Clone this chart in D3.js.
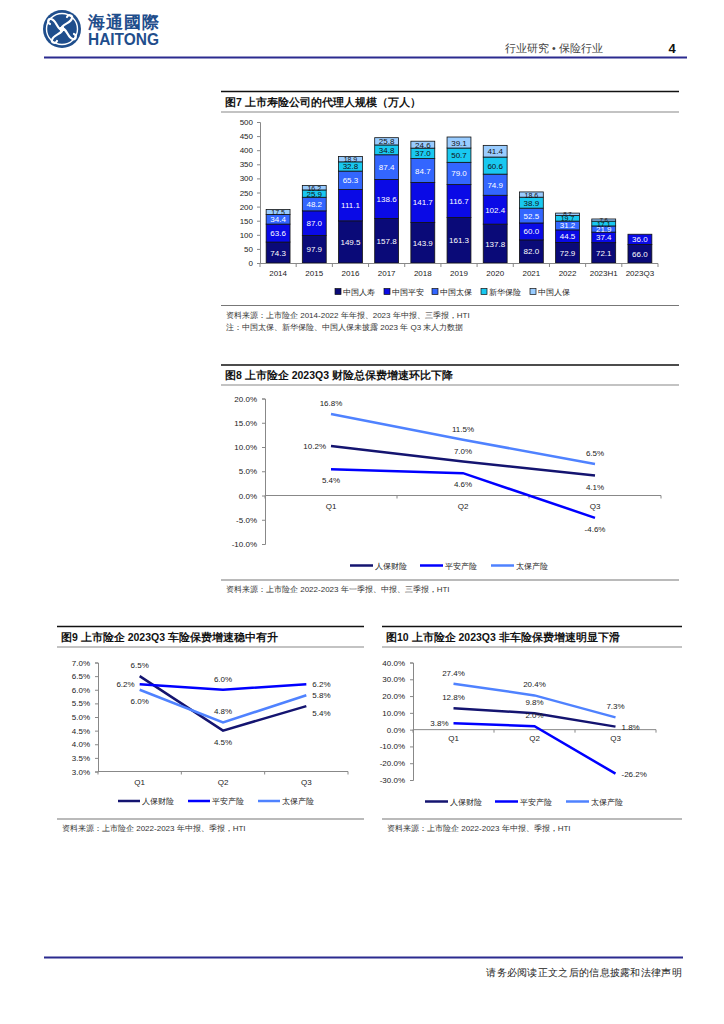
<!DOCTYPE html>
<html><head><meta charset="utf-8">
<script src="https://cdn.jsdelivr.net/npm/d3@7"></script>
<style>
body{margin:0;background:#fff;}
svg{display:block;}
text{font-family:"Liberation Sans",Arial,sans-serif;}
</style></head>
<body>
<svg id="page" width="724" height="1024"></svg>
<script>
// ---------- DATA ----------
const years = ["2014","2015","2016","2017","2018","2019","2020","2021","2022","2023H1","2023Q3"];
const companies = ["中国人寿","中国平安","中国太保","新华保险","中国人保"];
const chinaLife = [74.3,97.9,149.5,157.8,143.9,161.3,137.8,82.0,72.9,72.1,66.0];
const pingAn   = [63.6,87.0,111.1,138.6,141.7,116.7,102.4,60.0,44.5,37.4,36.0];
const cpic     = [34.4,48.2,65.3,87.4,84.7,79.0,74.9,52.5,31.2,21.9,null];
const nci      = [null,25.9,32.8,34.8,37.0,50.7,60.6,38.9,19.7,17.1,null];
const picc     = [17.5,16.2,18.9,25.8,24.6,39.1,41.4,18.6,8.7,7.6,null];
const agentTicks = [0,50,100,150,200,250,300,350,400,450,500];

const quarters = ["Q1","Q2","Q3"];
const lineSeries = ["人保财险","平安产险","太保产险"];
// 图8 财险总保费增速 (%)
const total_picc = [10.2,7.0,4.1];
const total_pa   = [5.4,4.6,-4.6];
const total_cpic = [16.8,11.5,6.5];
const totalTicks = [-10,-5,0,5,10,15,20];
// 图9 车险保费增速 (%)
const auto_picc = [6.5,4.5,5.4];
const auto_pa   = [6.2,6.0,6.2];
const auto_cpic = [6.0,4.8,5.8];
const autoTicks = [3.0,3.5,4.0,4.5,5.0,5.5,6.0,6.5,7.0];
// 图10 非车险保费增速 (%)
const nonauto_picc = [12.8,9.8,1.8];
const nonauto_pa   = [3.8,2.0,-26.2];
const nonauto_cpic = [27.4,20.4,7.3];
const nonautoTicks = [-30,-20,-10,0,10,20,30,40];

// ---------- STYLE ----------
const barColors = ["#0a0a78","#0a0ae6","#3366ff","#19c8f0","#99ccff"];
const barLabelColors = ["#fff","#fff","#fff","#111","#111"];
const lineColors = ["#141470","#0000ff","#4f82ff"];
const ink = "#222";
const CJK = '"Noto Sans CJK SC","Noto Sans",sans-serif';
const pct = v => (v < 0 ? "-" : "") + Math.abs(v).toFixed(1) + "%";

const svg = d3.select("#page");

// ---------- HEADER ----------
const brand = "#1f4e8c";
const logo = svg.append("g").attr("transform","translate(62,29)");
logo.append("circle").attr("r",19).attr("fill",brand);
logo.append("circle").attr("r",15.5).attr("fill","none").attr("stroke","#fff").attr("stroke-width",1.4);
[0,90,180,270].forEach(a=>{
  logo.append("path").attr("transform",`rotate(${a})`)
    .attr("d","M0,-2 C3,-6 9,-6 10,-11 C11,-14 6,-15 5,-12")
    .attr("fill","none").attr("stroke","#fff").attr("stroke-width",2.2).attr("stroke-linecap","round");
});
logo.append("rect").attr("x",-2).attr("y",-2).attr("width",4).attr("height",4).attr("fill","#fff");
svg.append("text").attr("x",88).attr("y",28).attr("font-size",17).attr("font-weight","bold")
  .attr("fill",brand).attr("textLength",71).attr("font-family",CJK).text("海通國際");
svg.append("text").attr("x",88).attr("y",45).attr("font-size",16).attr("font-weight","bold")
  .attr("fill",brand).attr("textLength",71).attr("lengthAdjust","spacingAndGlyphs").text("HAITONG");
svg.append("text").attr("x",505).attr("y",52).attr("font-size",10.5).attr("fill","#444")
  .attr("font-family",CJK).text("行业研究 • 保险行业");
svg.append("text").attr("x",672).attr("y",53).attr("font-size",13).attr("font-weight","bold")
  .attr("fill","#111").attr("text-anchor","middle").text("4");
svg.append("line").attr("x1",44).attr("x2",687).attr("y1",57.5).attr("y2",57.5)
  .attr("stroke","#2b2b8f").attr("stroke-width",2);

// footer
svg.append("line").attr("x1",44).attr("x2",683).attr("y1",957.5).attr("y2",957.5)
  .attr("stroke","#2b2b8f").attr("stroke-width",2);
svg.append("text").attr("x",682).attr("y",976).attr("font-size",10).attr("fill","#222")
  .attr("text-anchor","end").attr("font-family",CJK).attr("letter-spacing",0.3)
  .text("请务必阅读正文之后的信息披露和法律声明");

// ---------- PANEL FRAME ----------
function panel(x1,x2,yTop,yTitleLine,yBottom,title,sources){
  svg.append("line").attr("x1",x1).attr("x2",x2).attr("y1",yTop).attr("y2",yTop)
    .attr("stroke","#111").attr("stroke-width",1.6);
  svg.append("text").attr("x",x1+4).attr("y",(yTop+yTitleLine)/2+4).attr("font-size",10.5)
    .attr("font-weight","bold").attr("fill","#111").attr("font-family",CJK).text(title);
  svg.append("line").attr("x1",x1).attr("x2",x2).attr("y1",yTitleLine).attr("y2",yTitleLine)
    .attr("stroke","#888").attr("stroke-width",1.2);
  svg.append("line").attr("x1",x1).attr("x2",x2).attr("y1",yBottom).attr("y2",yBottom)
    .attr("stroke","#777").attr("stroke-width",1.2);
  sources.forEach((s,i)=>{
    svg.append("text").attr("x",x1+5).attr("y",yBottom+12+i*12.5).attr("font-size",8)
      .attr("fill","#333").attr("font-family",CJK).text(s);
  });
}

// ---------- FIGURE 7: stacked bars ----------
panel(221,679,91.5,112,305.5,"图7  上市寿险公司的代理人规模（万人）",
  ["资料来源：上市险企 2014-2022 年年报、2023 年中报、三季报，HTI",
   "注：中国太保、新华保险、中国人保未披露 2023 年 Q3 末人力数据"]);
{
  const series = [chinaLife,pingAn,cpic,nci,picc];
  const rows = years.map((y,i)=>{
    const r = {year:y};
    companies.forEach((c,k)=> r[c] = series[k][i] == null ? 0 : series[k][i]);
    return r;
  });
  const stack = d3.stack().keys(companies)(rows);
  const x = d3.scaleBand().domain(years).range([260,658]).paddingInner(0.34).paddingOuter(0.17);
  const y = d3.scaleLinear().domain([0,500]).range([263,122]);
  const g = svg.append("g");
  const ya = g.append("g").attr("transform","translate(260,0)")
    .call(d3.axisLeft(y).tickValues(agentTicks).tickSize(3).tickPadding(4));
  ya.select(".domain").attr("stroke","#888");
  ya.selectAll(".tick line").attr("stroke","#888");
  ya.selectAll("text").attr("font-size",8).attr("fill",ink);
  stack.forEach((layer,k)=>{
    g.append("g").selectAll("rect").data(layer.filter(d=>d[1]-d[0]>0)).join("rect")
      .attr("x",d=>x(d.data.year)).attr("width",x.bandwidth())
      .attr("y",d=>y(d[1])).attr("height",d=>y(d[0])-y(d[1]))
      .attr("fill",barColors[k]).attr("stroke","#111").attr("stroke-width",0.8);
  });
  stack.forEach((layer,k)=>{
    g.append("g").selectAll("text").data(layer.filter(d=>d[1]-d[0]>0)).join("text")
      .attr("x",d=>x(d.data.year)+x.bandwidth()/2)
      .attr("y",d=>(y(d[0])+y(d[1]))/2 + ((d[1]-d[0]) < 12 ? 2 : 3))
      .attr("text-anchor","middle")
      .attr("font-size",d=>(d[1]-d[0]) < 12 ? 6 : ((d[1]-d[0]) < 20 ? 7 : 8))
      .attr("fill",barLabelColors[k])
      .text(d=>(d[1]-d[0]).toFixed(1));
  });
  g.append("line").attr("x1",260).attr("x2",658).attr("y1",263.5).attr("y2",263.5).attr("stroke","#888");
  const bounds = years.map(v=>x(v)-x.step()*x.paddingInner()/2).concat([658]);
  g.selectAll(".xt").data(bounds).join("line").attr("x1",d=>d).attr("x2",d=>d)
    .attr("y1",263.5).attr("y2",267).attr("stroke","#888");
  g.selectAll(".xl").data(years).join("text").attr("x",d=>x(d)+x.bandwidth()/2).attr("y",276)
    .attr("text-anchor","middle").attr("font-size",8).attr("fill",ink).text(d=>d);
  const lx = [335,384,432,481,530];
  companies.forEach((c,k)=>{
    g.append("rect").attr("x",lx[k]).attr("y",288.5).attr("width",6).attr("height",6)
      .attr("fill",barColors[k]).attr("stroke","#111").attr("stroke-width",0.7);
    g.append("text").attr("x",lx[k]+7.5).attr("y",294.5).attr("font-size",7.5).attr("fill",ink)
      .attr("font-family",CJK).text(c);
  });
}

// ---------- LINE CHART helper ----------
function lineChart(opt){
  const g = svg.append("g");
  const x = d3.scaleBand().domain(quarters).range([opt.x0,opt.x1]);
  const y = d3.scaleLinear().domain(opt.domain).range([opt.yb,opt.yt]);
  const ya = g.append("g").attr("transform",`translate(${opt.x0},0)`)
    .call(d3.axisLeft(y).tickValues(opt.ticks).tickSize(3).tickPadding(5).tickFormat(pct));
  ya.select(".domain").attr("stroke","#888");
  ya.selectAll(".tick line").attr("stroke","#888");
  ya.selectAll("text").attr("font-size",8).attr("fill",ink);
  const y0 = opt.axisAt == null ? opt.yb : y(opt.axisAt);
  g.append("line").attr("x1",opt.x0).attr("x2",opt.x1).attr("y1",y0).attr("y2",y0).attr("stroke","#888");
  const bounds = [opt.x0].concat(quarters.map(q=>x(q)+x.step()));
  g.selectAll(".xt").data(bounds).join("line").attr("x1",d=>d).attr("x2",d=>d)
    .attr("y1",y0).attr("y2",y0+3).attr("stroke","#888");
  g.selectAll(".xl").data(quarters).join("text").attr("x",d=>x(d)+x.bandwidth()/2).attr("y",y0+opt.catDy)
    .attr("text-anchor","middle").attr("font-size",8).attr("fill",ink).text(d=>d);
  const line = d3.line().x((d,i)=>x(quarters[i])+x.bandwidth()/2).y(d=>y(d));
  opt.series.forEach((s,k)=>{
    g.append("path").datum(s).attr("d",line).attr("fill","none")
      .attr("stroke",lineColors[k]).attr("stroke-width",2.5);
  });
  opt.series.forEach((s,k)=>{
    s.forEach((v,i)=>{
      const px = x(quarters[i])+x.bandwidth()/2, py = y(v);
      const p = opt.place[k][i];
      let tx=px, ty=py+3, anchor="middle";
      if(p==="a") ty = py-8;
      if(p==="b") ty = py+14;
      if(p==="l"){ tx = px-5; anchor="end"; }
      if(p==="r"){ tx = px+6; anchor="start"; }
      if(p==="rb"){ tx = px+6; anchor="start"; ty = py+10; }
      g.append("text").attr("x",tx).attr("y",ty).attr("text-anchor",anchor)
        .attr("font-size",8).attr("fill",ink).text(pct(v));
    });
  });
  opt.legendX.forEach((lx,k)=>{
    g.append("line").attr("x1",lx).attr("x2",lx+opt.legLen).attr("y1",opt.legY).attr("y2",opt.legY)
      .attr("stroke",lineColors[k]).attr("stroke-width",2.5);
    g.append("text").attr("x",lx+opt.legLen+2).attr("y",opt.legY+3).attr("font-size",7.5)
      .attr("fill",ink).attr("font-family",CJK).text(lineSeries[k]);
  });
}

// ---------- FIGURE 8 ----------
panel(221,679,365,385,580,"图8  上市险企 2023Q3 财险总保费增速环比下降",
  ["资料来源：上市险企 2022-2023 年一季报、中报、三季报，HTI"]);
lineChart({x0:265,x1:661,domain:[-10,20],yb:544,yt:398.5,ticks:totalTicks,axisAt:0,catDy:13,
  series:[total_picc,total_pa,total_cpic],
  place:[["l","a","b"],["b","b","b"],["a","a","a"]],
  legendX:[350,420,491],legLen:23,legY:565.5});

// ---------- FIGURE 9 ----------
panel(57,364,626.5,647,819,"图9  上市险企 2023Q3 车险保费增速稳中有升",
  ["资料来源：上市险企 2022-2023 年中报、季报，HTI"]);
lineChart({x0:98,x1:348,domain:[3,7],yb:771.5,yt:662.5,ticks:autoTicks,axisAt:null,catDy:13,
  series:[auto_picc,auto_pa,auto_cpic],
  place:[["a","b","rb"],["l","a","r"],["b","a","r"]],
  legendX:[118,188,258],legLen:22,legY:801});

// ---------- FIGURE 10 ----------
panel(382,682,626.5,647,819,"图10 上市险企 2023Q3 非车险保费增速明显下滑",
  ["资料来源：上市险企 2022-2023 年中报、季报，HTI"]);
lineChart({x0:413,x1:656,domain:[-30,40],yb:780,yt:662.5,ticks:nonautoTicks,axisAt:0,catDy:11,
  series:[nonauto_picc,nonauto_pa,nonauto_cpic],
  place:[["a","a","r"],["l","a","r"],["a","a","a"]],
  legendX:[425,495,566],legLen:23,legY:801.5});
</script>
</body></html>
